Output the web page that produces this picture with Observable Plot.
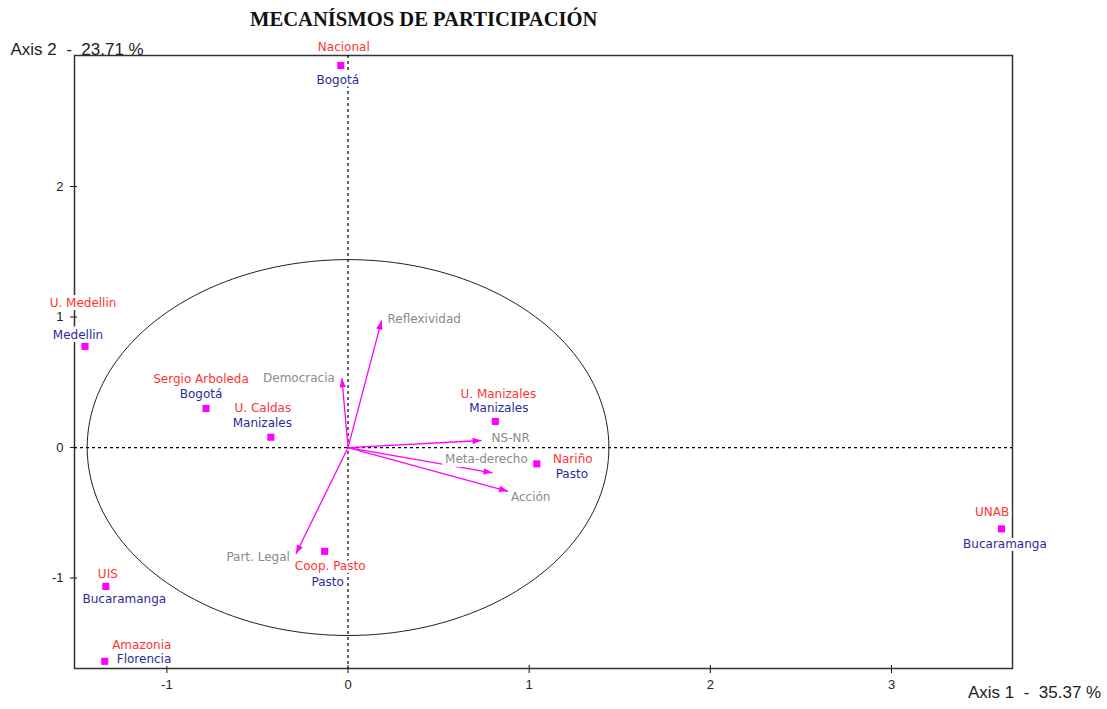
<!DOCTYPE html>
<html><head><meta charset="utf-8">
<script src="https://cdn.jsdelivr.net/npm/d3@7"></script>
<script src="https://cdn.jsdelivr.net/npm/@observablehq/plot@0.6"></script>
<style>
body{margin:0;background:#fff;}
#wrap{position:relative;width:1107px;height:709px;overflow:hidden;}
#title{position:absolute;left:250px;top:9px;font:bold 20.6px/20px "Liberation Serif","Times New Roman",serif;color:#111;white-space:nowrap;}
</style></head><body>
<div id="wrap"><div id="title">MECANÍSMOS DE PARTICIPACIÓN</div></div>
<script>
// ---- data ----
const schools = ["Nacional","U. Medellin","Sergio Arboleda","U. Caldas","U. Manizales","Nariño","UNAB","Coop. Pasto","UIS","Amazonia"];
const cities  = ["Bogotá","Medellin","Bogotá","Manizales","Manizales","Pasto","Bucaramanga","Pasto","Bucaramanga","Florencia"];
const axis1   = [-0.040,-1.452,-0.784,-0.426,0.813,1.042,3.607,-0.129,-1.337,-1.343];
const axis2   = [2.927,0.775,0.299,0.079,0.200,-0.125,-0.623,-0.795,-1.064,-1.638];
const variables = ["Reflexividad","Democracia","NS-NR","Meta-derecho","Acción","Part. Legal"];
const var1 = [0.185,-0.034,0.737,0.797,0.883,-0.288];
const var2 = [0.973,0.531,0.054,-0.194,-0.335,-0.815];
const xTicks = [-1,0,1,2,3];
const yTicks = [-1,0,1,2];
const axis1Title = "Axis 1\u00a0\u00a0-\u00a0\u00a035.37 %";
const axis2Title = "Axis 2\u00a0\u00a0-\u00a0\u00a023.71 %";
const circleRadius = 1.44;

// ---- layout (pixel offsets of labels, not data) ----
const schoolLabelLayout = [ // [dxRed, dyRed, dxBlue, dyBlue]
  [3,-18,-3,15],[-2,-43,-7,-11.5],[-5,-29,-5,-14],[-8,-29,-8.5,-14],[3,-27.4,3.5,-13.4],
  [36,-5,35,10],[-9.3,-16.6,3.5,15],[5.5,15,3,31],[2,-12.5,18.5,13],[37,-15.7,39.3,-2.4]];
const varLabelLayout = [ // [textAnchor, dx, dy]
  ["start",6,-1],["end",-7,0],["start",10,-2],["middle",-6,-14],["start",3,6],["end",-6,3]];

const W = 1107, H = 709, mt = 55, mr = 95, mb = 41, ml = 74;
const xDomain = [-1.51, 3.668], yDomain = [-1.693, 3.004];
const kx = (W - ml - mr) / (xDomain[1] - xDomain[0]);
const ky = (H - mt - mb) / (yDomain[1] - yDomain[0]);

const RED = "#ff3333", BLUE = "#2b2b95", GRAY = "#8a8a8a", MAG = "#ff00ff";
const FONT = "DejaVu Sans, Verdana, sans-serif";
const AFONT = "Liberation Sans, Arial, sans-serif";

const pts = schools.map((s,i)=>({school:s, city:cities[i], x:axis1[i], y:axis2[i]}));
const vars = variables.map((v,i)=>({name:v, x:var1[i], y:var2[i],
  rot: Math.atan2(var1[i]*kx, var2[i]*ky)*180/Math.PI}));
const circle = d3.range(0, 361, 2).map(a => ({x: circleRadius*Math.cos(a*Math.PI/180), y: circleRadius*Math.sin(a*Math.PI/180)}));

const head = {draw(ctx){ ctx.moveTo(0,0); ctx.lineTo(-3.2,9); ctx.lineTo(3.2,9); ctx.closePath(); }};

const halo = {stroke:"white", strokeWidth:6, paintOrder:"stroke", strokeLinejoin:"round", fontFamily: FONT, fontSize: 12};

const labelMarks = [];
pts.forEach((p,i)=>{
  const [dxr,dyr,dxb,dyb] = schoolLabelLayout[i];
  labelMarks.push(Plot.text([p], {x:"x", y:"y", text:"school", dx:dxr, dy:dyr, fill:RED, ...halo}));
  labelMarks.push(Plot.text([p], {x:"x", y:"y", text:"city", dx:dxb, dy:dyb, fill:BLUE, ...halo}));
});
vars.forEach((v,i)=>{
  const [anchor,dx,dy] = varLabelLayout[i];
  labelMarks.push(Plot.text([v], {x:"x", y:"y", text:"name", dx, dy, textAnchor:anchor, fill:GRAY, ...halo,
    strokeWidth: v.name === "Meta-derecho" ? 8 : 5}));
});

const chart = Plot.plot({
  width: W, height: H,
  marginTop: mt, marginRight: mr, marginBottom: mb, marginLeft: ml,
  style: {fontFamily: FONT, fontSize: "12px", background: "white", overflow: "visible"},
  x: {domain: xDomain, label: null},
  y: {domain: yDomain, label: null},
  marks: [
    Plot.axisX({ticks: xTicks, tickSize: 8, dy: -3, tickPadding: 6, tickFormat: d => String(d),
      fontFamily: AFONT, fontSize: 13, stroke: "#111", fill: "#222", label: null}),
    Plot.axisY({ticks: yTicks, tickSize: 7, dx: 3, tickPadding: 7, tickFormat: d => String(d),
      fontFamily: AFONT, fontSize: 13, stroke: "#111", fill: "#222", label: null}),
    Plot.frame({stroke: "#333", strokeWidth: 1.5}),
    Plot.ruleX([0], {stroke: "#000", strokeWidth: 1.2, strokeDasharray: "3,3"}),
    Plot.ruleY([0], {stroke: "#000", strokeWidth: 1.2, strokeDasharray: "3,3"}),
    Plot.line(circle, {x: "x", y: "y", stroke: "#222", strokeWidth: 1}),
    Plot.link(vars, {x1: () => 0, y1: () => 0, x2: "x", y2: "y", stroke: MAG, strokeWidth: 1.3}),
    ...labelMarks,
    Plot.dot(pts, {x: "x", y: "y", symbol: "square", r: 4, fill: MAG}),
    Plot.dot(vars, {x: "x", y: "y", symbol: head, rotate: "rot", r: 4, fill: MAG}),
    Plot.text([axis2Title], {frameAnchor: "top-left", dx: -64, dy: -12.5, textAnchor: "start",
      fontFamily: AFONT, fontSize: 17, fill: "#222"}),
    Plot.text([axis1Title], {frameAnchor: "bottom-right", dx: 88.7, dy: 29, textAnchor: "end",
      fontFamily: AFONT, fontSize: 17, fill: "#222"})
  ]
});
document.getElementById("wrap").prepend(chart);
</script>
</body></html>
